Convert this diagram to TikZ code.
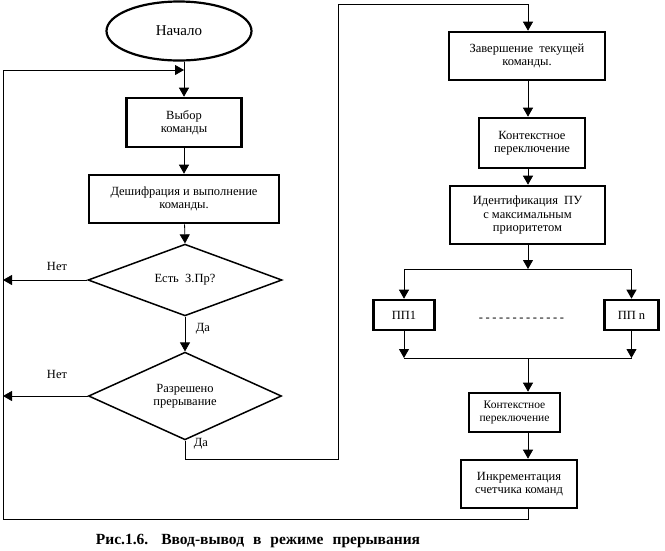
\documentclass[tikz,border=0pt]{standalone}
\usepackage{fontspec}
\setmainfont{Liberation Serif}
\usetikzlibrary{arrows.meta,shapes.geometric}

\begin{document}
\begin{tikzpicture}[
  x=1pt, y=-1pt,
  font=\fontsize{12.5}{13.5}\selectfont,
  box/.style={
    rectangle, draw, line width=2.6pt,
    align=center, inner sep=2pt
  },
  startbox/.style={ellipse, draw, line width=2.2pt, inner sep=0pt,
    font=\fontsize{15}{17}\selectfont},
  decision/.style={diamond, draw, line width=1.5pt, inner sep=0pt,
    align=center},
  lbl/.style={inner sep=0pt},
  flow/.style={-{Triangle[length=9pt,width=10pt]}, line width=0.8pt},
  link/.style={line width=0.8pt}
]
\useasboundingbox (0,0) rectangle (665,550);

%  Left column 
\node[startbox, minimum width=145, minimum height=59] (start) at (179,31) {Начало};
\node[box, minimum width=115, minimum height=49] (choose) at (184,122.5) {Выбор\\команды};
\node[box, minimum width=190, minimum height=48] (decode) at (184,199) {Дешифрация и выполнение\\команды.};
\node[decision, minimum width=194, minimum height=56] (irq) at (185,280) {Есть\ \ З.Пр?};
\node[decision, minimum width=193, minimum height=77] (allow) at (185,396) {Разрешено\\прерывание};

%  Right column 
\node[box, minimum width=156, minimum height=48] (finish) at (527,56) {Завершение\ \ текущей\\команды.};
\node[box, minimum width=106, minimum height=50] (ctx1) at (532,143) {Контекстное\\переключение};
\node[box, minimum width=155, minimum height=58] (ident) at (527.5,215) {Идентификация\ \ ПУ\\с максимальным\\приоритетом};
\node[box, minimum width=61, minimum height=30] (isr1) at (404,315) {ПП1};
\node[box, minimum width=54, minimum height=30] (isrn) at (631.5,315) {ПП n};
\node[lbl] (dots) at (521.5,320) {-\hspace{2.6pt}-\hspace{2.6pt}-\hspace{2.6pt}-\hspace{2.6pt}-\hspace{2.6pt}-\hspace{2.6pt}-\hspace{2.6pt}-\hspace{2.6pt}-\hspace{2.6pt}-\hspace{2.6pt}-\hspace{2.6pt}-\hspace{2.6pt}-};
\node[box, minimum width=91, minimum height=39, font=\fontsize{11.5}{13}\selectfont] (ctx2) at (514.5,412.5) {Контекстное\\переключение};
\node[box, minimum width=116, minimum height=48] (incr) at (519,484) {Инкрементация\\счетчика команд};

%  Helper points 
\coordinate (rx) at (528,0);
\coordinate (lp) at (184,70);
\coordinate (lc) at (3,519);
\coordinate (no1) at (3,280);
\coordinate (no2) at (3,396);
\coordinate (yb) at (338,459);
\coordinate (yt) at (338,4);
\coordinate (split) at (528,269);
\coordinate (merge) at (528,358);

%  Labels 
\node[lbl] (n1) at (57,266) {Нет};
\node[lbl] (n2) at (57,374) {Нет};
\node[lbl] (y1) at (203,329) {Да};
\node[lbl] (y2) at (201,444) {Да};

%  Flow arrows 
\draw[flow] (start.south -| choose.north) -- (choose.north);
\draw[flow] (choose) -- (decode);
\draw[flow] (decode) -- (irq.north);
\draw[flow] (irq.west) -- (no1);
\draw[flow] (irq.south) -- (allow.north);
\draw[flow] (allow.west) -- (no2);
\draw[flow] (allow.south) |- (yb) -- (yt) -| (finish.north -| rx);
\draw[flow] (finish.south -| rx) -- (ctx1.north -| rx);
\draw[flow] (ctx1.south -| rx) -- (ident.north -| rx);
\draw[flow] (ident.south -| rx) -- (split);
\draw[flow] (split) -| (isr1.north);
\draw[flow] (split) -| (isrn.north);
\draw[flow] (isr1.south) -- (isr1.south |- merge);
\draw[flow] (isrn.south) -- (isrn.south |- merge);
\draw[link] (isr1.south |- merge) -- (isrn.south |- merge);
\draw[flow] (merge) -- (ctx2.north -| rx);
\draw[flow] (ctx2.south -| rx) -- (incr.north -| rx);
\draw[flow] (incr.south -| rx) |- (lc) |- (lp);

%  Caption 
\node[lbl, font=\fontsize{15.5}{17}\selectfont\bfseries] (cap) at (258,541)
  {Рис.1.6.\hspace{13pt}Ввод-вывод\hspace{9pt}в\hspace{9pt}режиме\hspace{9pt}прерывания};

\end{tikzpicture}
\end{document}
